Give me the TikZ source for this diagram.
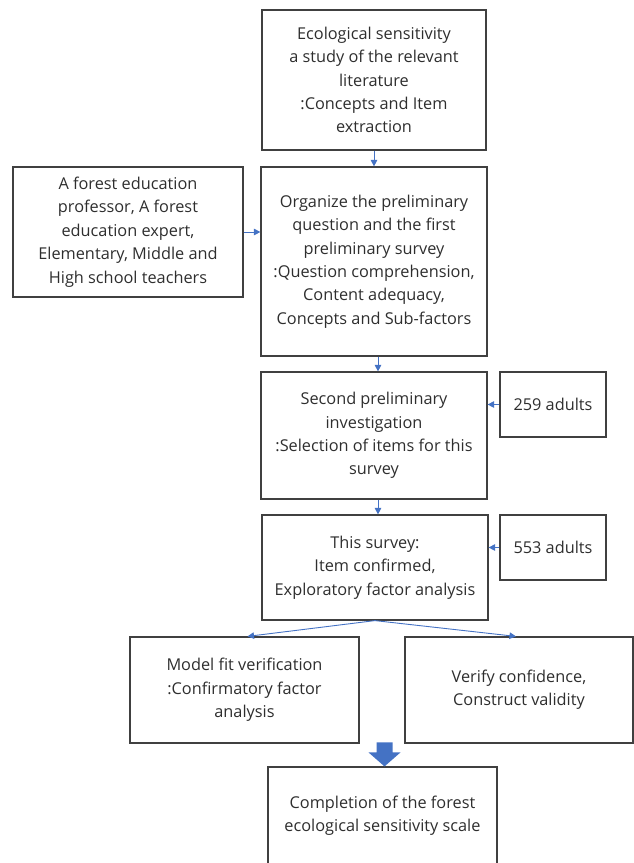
\documentclass[tikz,border=0pt]{standalone}
\usepackage{fontspec}
\setmainfont{Open Sans}
\usepackage{xcolor}
\usetikzlibrary{arrows.meta}
\definecolor{boxgray}{HTML}{404040}
\definecolor{textgray}{HTML}{2E2E2E}
\definecolor{linkblue}{HTML}{4472C4}
\tikzset{
stagebox/.style={draw=boxgray, line width=1.2pt, text=textgray, align=center,
    inner sep=2pt, font=\fontsize{16.3}{23.4}\selectfont},
link/.style={draw=linkblue, line width=0.9pt, -{Triangle[length=6.5pt,width=6.5pt]}}
}

\begin{document}
\begin{tikzpicture}[x=1pt,y=-1pt]
    \useasboundingbox (0,0) rectangle (634,863);
    \clip (0,0) rectangle (634,863);
    \node[stagebox, minimum width=224pt, minimum height=140pt] (lit) at (374,80)
        {Ecological sensitivity\\a study of the relevant\\literature\\:Concepts and Item\\extraction};
    \node[stagebox, minimum width=230pt, minimum height=130pt] (experts) at (128,232)
        {A forest education\\professor, A forest\\education expert,\\Elementary, Middle and\\High school teachers};
    \node[stagebox, minimum width=226pt, minimum height=189pt] (prelim) at (374,261.5)
        {Organize the preliminary\\question and the first\\preliminary survey\\:Question comprehension,\\Content adequacy,\\Concepts and Sub-factors};
    \node[stagebox, minimum width=226pt, minimum height=127pt] (second) at (374,435.5)
        {Second preliminary\\investigation\\:Selection of items for this\\survey};
    \node[stagebox, minimum width=106pt, minimum height=65pt] (adultsA) at (553,404.5) {259 adults};
    \node[stagebox, minimum width=226pt, minimum height=105pt] (survey) at (375,567.5)
        {This survey:\\Item confirmed,\\Exploratory factor analysis};
    \node[stagebox, minimum width=106pt, minimum height=65pt] (adultsB) at (553,547.5) {553 adults};
    \node[stagebox, minimum width=229pt, minimum height=106pt] (fit) at (244.5,690)
        {Model fit verification\\:Confirmatory factor\\analysis};
    \node[stagebox, minimum width=228pt, minimum height=106pt] (verify) at (519,690)
        {Verify confidence,\\Construct validity};
    \node[stagebox, minimum width=229pt, minimum height=98pt] (done) at (382.5,816)
        {Completion of the forest\\ecological sensitivity scale};
    \draw[link] (lit.south) -- (prelim.north);
    \draw[link] (experts.east) -- (experts.east -| prelim.west);
    \draw[link] ([xshift=4pt]prelim.south) -- ([xshift=4pt]second.north);
    \draw[link] (adultsA.west) -- (adultsA.west -| second.east);
    \draw[link] ([xshift=4pt]second.south) -- ([xshift=3pt]survey.north);
    \draw[link] (adultsB.west) -- (adultsB.west -| survey.east);
    \draw[link] (survey.south) -- ([xshift=3pt]fit.north);
    \draw[link] (survey.south) -- ([xshift=-3pt]verify.north);
    \fill[linkblue] ([xshift=2pt]done.north) -- ++(-16,-14) -- ++(8,0) -- ++(0,-10)
        -- ++(16,0) -- ++(0,10) -- ++(8,0) -- cycle;
\end{tikzpicture}
\end{document}
